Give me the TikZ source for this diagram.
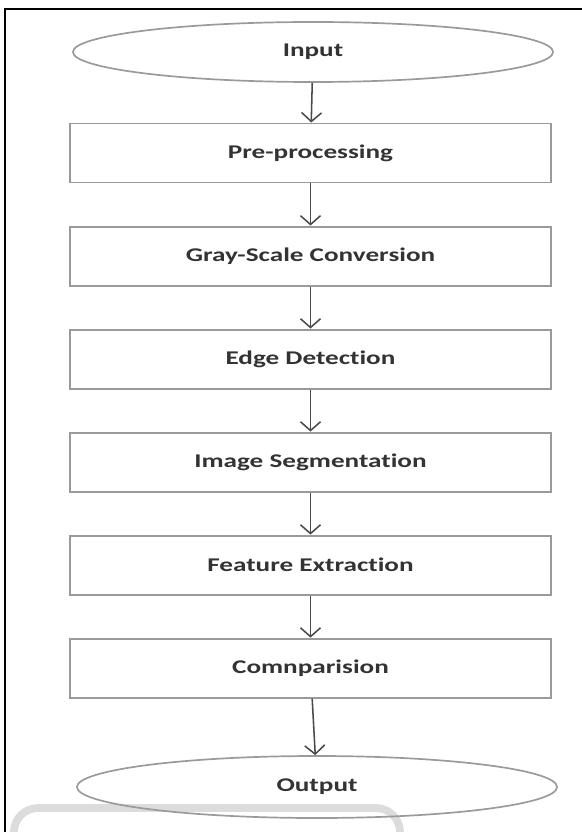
\documentclass[tikz,border=0pt]{standalone}
\usepackage{fontspec}
\setmainfont{Carlito}[FakeStretch=1.4, Ligatures=NoCommon]
\usetikzlibrary{shapes.geometric, arrows.meta, positioning}
\definecolor{boxline}{HTML}{9A9A9A}
\definecolor{txtgray}{HTML}{333333}
\definecolor{arrowgray}{HTML}{4A4A4A}
\definecolor{bandgray}{HTML}{DCDCDC}

\begin{document}
\begin{tikzpicture}[
            x=0.025cm, y=-0.025cm,
            node distance=2.575cm,
            box/.style={rectangle, draw=boxline, line width=1.4pt, minimum width=12.025cm, minimum height=1.475cm, inner sep=0pt, text=txtgray, font=\fontsize{13.8}{16}\selectfont\bfseries},
            terminal/.style={ellipse, draw=boxline, line width=1.2pt, minimum width=12cm, minimum height=1.5cm, inner sep=0pt, text=txtgray, font=\fontsize{13.8}{16}\selectfont\bfseries},
            arrow/.style={-{Straight Barb[length=0.22cm, width=0.5cm]}, draw=arrowgray, line width=1.1pt}
        ]
            \useasboundingbox (0,0) rectangle (582,832);
            % frame and faded band
            \draw[line width=1.5pt] (5,840) -- (5,9) -- (590,9);
            \draw[bandgray, line width=5.5pt, rounded corners=0.6cm] (14,870) -- (14,808) -- (400,808) -- (400,870);

            \node[terminal] (input) at (313,52) {Input};
            \node[box] (preproc) at (310.5,153) {Pre-processing};
            \node[box, below of=preproc] (gray) {Gray-Scale Conversion};
            \node[box, below of=gray] (edge) {Edge Detection};
            \node[box, below of=edge] (segment) {Image Segmentation};
            \node[box, below of=segment] (feature) {Feature Extraction};
            \node[box, below of=feature] (compare) {Comnparision};
            \node[terminal, minimum height=1.55cm] (output) at (317,787) {Output};

            \draw[arrow] (input) -- (preproc);
            \draw[arrow] (preproc) -- (gray);
            \draw[arrow] (gray) -- (edge);
            \draw[arrow] (edge) -- (segment);
            \draw[arrow] (segment) -- (feature);
            \draw[arrow] (feature) -- (compare);
            \draw[arrow] (compare) -- (output);
        \end{tikzpicture}
\end{document}
